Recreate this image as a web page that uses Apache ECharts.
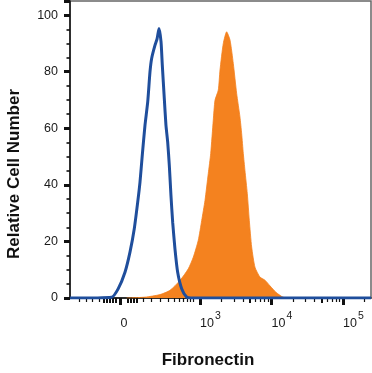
<!DOCTYPE html>
<html><head><meta charset="utf-8">
<script src="https://cdn.jsdelivr.net/npm/echarts@6/dist/echarts.min.js"></script>
<style>html,body{margin:0;padding:0;background:#fff}#c{width:372px;height:373px}</style>
</head><body><div id="c"></div>
<script>
// x values are positions on the biexponential display axis (3 = 10^3, 4 = 10^4, ...)
const isotypeX = [1.182, 1.765, 1.857, 1.951, 2.021, 2.081, 2.129, 2.161, 2.193, 2.231, 2.269, 2.301, 2.324, 2.371, 2.399, 2.427, 2.455, 2.473, 2.501, 2.524, 2.548, 2.571, 2.594, 2.618, 2.650, 2.688, 2.744, 2.814, 2.874, 5.392];
const isotypeY = [0, 0.3, 3.3, 9.1, 16.2, 24.5, 33.9, 41, 50.5, 61.1, 69.3, 80, 84.7, 89.4, 91.5, 95.3, 90.6, 82.3, 70.5, 61.1, 55.2, 46.9, 36.3, 26.8, 17.4, 9.1, 3.3, 0.3, 0, 0];
const fibronectinX = [1.975, 2.231, 2.441, 2.580, 2.720, 2.836, 2.906, 2.976, 3.024, 3.070, 3.116, 3.150, 3.186, 3.210, 3.256, 3.280, 3.326, 3.373, 3.420, 3.466, 3.513, 3.559, 3.583, 3.606, 3.629, 3.662, 3.690, 3.723, 3.769, 3.839, 3.909, 3.979, 4.063, 4.161, 4.259];
const fibronectinY = [0, 0.3, 1.2, 2.7, 6.2, 10.3, 14.4, 20.4, 27.4, 34.5, 44, 51.1, 62.9, 69.9, 73.5, 80.6, 90, 94.1, 91.2, 82.9, 72.3, 64, 58.1, 51.1, 45.1, 36.9, 27.4, 18, 10.9, 7.4, 6.3, 4.3, 2, 0.3, 0];

const xTickLabels = ['0', '10^3', '10^4', '10^5'];
const xTickValues = [1.888, 3, 4, 5];
const xMediumTicks = [1.657, 1.699, 1.741, 1.783, 1.825, 1.993, 2.035, 2.077, 2.119, 3.699, 4.699];
const xMinorTicksLow = [1.308, 1.406, 1.490, 1.587, 2.203, 2.315, 2.441, 2.552, 2.636, 2.706, 2.762, 2.818, 2.860, 2.902];
const logMultipliers = [2, 3, 4, 6, 7, 8, 9];
const logDecades = [3, 4];
const yTickValues = [0, 20, 40, 60, 80, 100];

const xMinorTicks = xMinorTicksLow.slice();
logDecades.forEach(d => logMultipliers.forEach(m => xMinorTicks.push(d + Math.log10(m))));
xMinorTicks.push(5 + Math.log10(2));

const FONT = '"Liberation Sans", Arial, Helvetica, sans-serif';
const X_MIN = 1.182, X_MAX = 5.392;

function pairs(xs, ys) { return xs.map((x, i) => [x, ys[i]]); }
function labelFor(v) {
  let best = 0;
  xTickValues.forEach((t, i) => { if (Math.abs(t - v) < Math.abs(xTickValues[best] - v)) best = i; });
  const s = xTickLabels[best];
  if (s.indexOf('10^') === 0) return '{b|10}{s|' + s.slice(3) + '}';
  return '{b|' + s + '}{s| }';
}

const tickAxis = (vals, len, width) => ({
  type: 'value', min: X_MIN, max: X_MAX, position: 'bottom', gridIndex: 0,
  axisLine: { show: false }, splitLine: { show: false }, axisLabel: { show: false },
  axisTick: { show: true, customValues: vals, length: len, lineStyle: { color: '#111', width: width } }
});

const chart = echarts.init(document.getElementById('c'), null, { renderer: 'canvas' });
chart.setOption({
  animation: false,
  backgroundColor: '#fff',
  grid: { left: 70, right: 1, top: 1, bottom: 75, show: true, borderColor: '#666', borderWidth: 1.5, backgroundColor: 'transparent' },
  xAxis: [
    {
      type: 'value', min: X_MIN, max: X_MAX, position: 'bottom',
      axisLine: { show: true, lineStyle: { color: '#111', width: 1.5 } },
      splitLine: { show: false },
      axisTick: { show: true, customValues: xTickValues, length: 7, lineStyle: { color: '#111', width: 3 } },
      axisLabel: {
        show: true, customValues: xTickValues, align: 'left', margin: 18,
        formatter: labelFor,
        rich: {
          b: { fontFamily: FONT, fontSize: 12.5, color: '#1a1a1a', verticalAlign: 'bottom', lineHeight: 14 },
          s: { fontFamily: FONT, fontSize: 10.5, color: '#1a1a1a', verticalAlign: 'bottom', lineHeight: 10, padding: [0, 0, 8, 1] }
        }
      }
    },
    tickAxis(xMediumTicks, 5, 2),
    tickAxis(xMinorTicks, 4, 1.2)
  ],
  yAxis: {
    type: 'value', min: 0, max: 105, interval: 20,
    axisLine: { show: true, lineStyle: { color: '#111', width: 1.5 } },
    splitLine: { show: false },
    axisTick: { show: true, length: 6, lineStyle: { color: '#111', width: 3 } },
    minorTick: { show: true, splitNumber: 4, length: 3.5, lineStyle: { color: '#111', width: 1.6 } },
    axisLabel: { margin: 12, fontFamily: FONT, fontSize: 12.5, color: '#1a1a1a', showMaxLabel: false }
  },
  series: [
    {
      type: 'line', xAxisIndex: 0, data: pairs(fibronectinX, fibronectinY), showSymbol: false, smooth: 0.2,
      lineStyle: { width: 0.8, color: '#F4821F' }, areaStyle: { color: '#F4821F', opacity: 1 }, z: 2
    },
    {
      type: 'line', xAxisIndex: 0, data: pairs(isotypeX, isotypeY), showSymbol: false, smooth: 0.2,
      lineStyle: { width: 3, color: '#1F4E9C' }, z: 3
    }
  ],
  graphic: [
    { type: 'text', x: 14.5, y: 174, rotation: Math.PI / 2,
      style: { text: 'Relative Cell Number', x: 0, y: 0, align: 'center', verticalAlign: 'middle', textAlign: 'center', textVerticalAlign: 'middle', font: 'bold 17px ' + FONT, fill: '#111' } },
    { type: 'text', x: 208, y: 360,
      style: { text: 'Fibronectin', x: 0, y: 0, align: 'center', verticalAlign: 'middle', textAlign: 'center', textVerticalAlign: 'middle', font: 'bold 17px ' + FONT, fill: '#111' } }
  ]
});
</script>
</body></html>
